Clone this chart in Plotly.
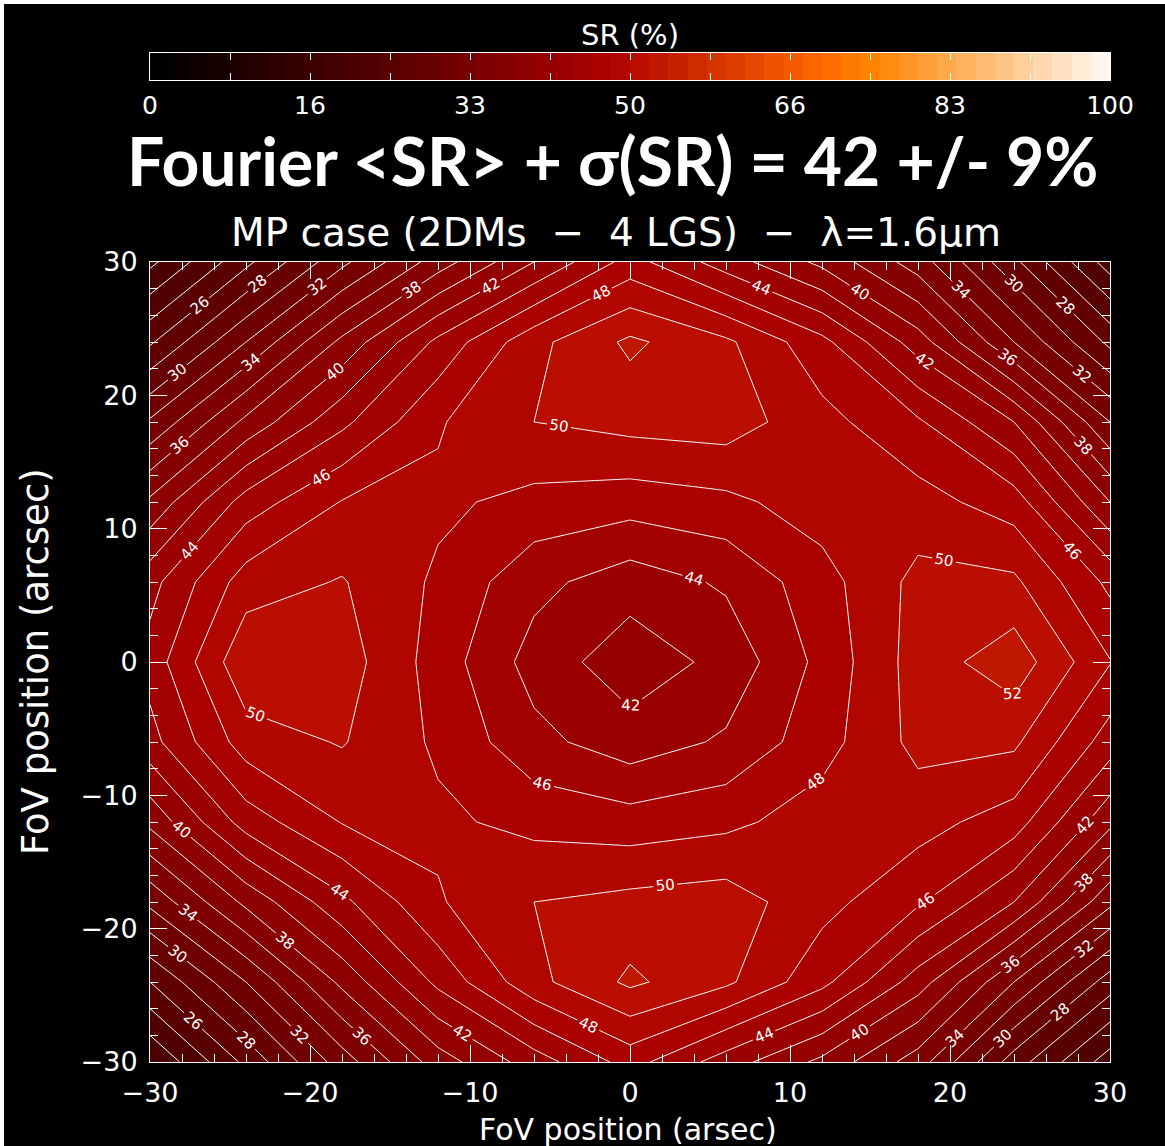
import plotly.graph_objects as go

# ---------------- data (SR in %) ----------------
x_pos = [-30, -24, -18, -12, -6, 0, 6, 12, 18, 24, 30]
y_pos = [-30, -24, -18, -12, -6, 0, 6, 12, 18, 24, 30]

sr_row_m30 = [20.0, 26.5, 33.0, 39.0, 43.0, 46.8, 43.0, 39.5, 35.0, 27.0, 21.0]
sr_row_m24 = [26.0, 32.0, 38.5, 44.5, 49.4, 52.4, 50.4, 46.6, 41.0, 34.0, 27.0]
sr_row_m18 = [32.5, 38.5, 43.5, 47.8, 50.0, 50.6, 51.0, 48.7, 46.3, 42.0, 34.5]
sr_row_m12 = [38.5, 44.9, 48.1, 48.4, 47.4, 46.9, 47.5, 49.0, 48.8, 47.0, 40.5]
sr_row_m6 = [43.3, 49.0, 50.15, 47.65, 44.6, 42.9, 44.3, 47.2, 50.6, 50.4, 45.0]
sr_row_0 = [44.8, 51.6, 51.0, 47.1, 43.2, 40.8, 42.6, 46.6, 50.9, 53.2, 48.1]
sr_row_p6 = [43.3, 49.0, 50.15, 47.65, 44.6, 42.9, 44.3, 47.2, 50.6, 50.4, 45.5]
sr_row_p12 = [38.4, 44.9, 48.1, 48.4, 47.4, 46.9, 47.5, 49.0, 48.8, 47.0, 40.0]
sr_row_p18 = [32.3, 38.5, 43.5, 47.8, 50.0, 50.7, 51.0, 48.7, 46.3, 42.0, 34.0]
sr_row_p24 = [25.7, 32.0, 38.5, 44.5, 49.4, 52.4, 50.4, 46.6, 41.0, 34.0, 27.5]
sr_row_p30 = [19.5, 25.5, 31.5, 37.0, 42.0, 46.8, 43.0, 39.5, 35.0, 28.5, 21.0]

sr_grid = [sr_row_m30, sr_row_m24, sr_row_m18, sr_row_m12, sr_row_m6, sr_row_0,
           sr_row_p6, sr_row_p12, sr_row_p18, sr_row_p24, sr_row_p30]

contour_start, contour_end, contour_step = 20, 52, 2

cbar_steps = list(range(0, 100, 2))          # colour bar cells (lower bound of each)
cbar_tickvals = [0, 100 / 6, 200 / 6, 50, 400 / 6, 500 / 6, 100]
cbar_ticktext = ["0", "16", "33", "50", "66", "83", "100"]
axis_ticks = [-30, -20, -10, 0, 10, 20, 30]

# ---------------- style helpers ----------------
def ct3(v):
    """IDL 'Red Temperature' colour table evaluated at v (0..100 %)."""
    i = v * 255.0 / 100.0
    r = min(255.0, i * 255.0 / 176.0)
    g = max(0.0, min(255.0, (i - 120.0) * 255.0 / 135.0))
    b = max(0.0, min(255.0, (i - 190.0) * 255.0 / 65.0))
    return "rgb(%d,%d,%d)" % (round(r), round(g), round(b))

# plotly maps the fill colorscale onto [start - step/2, end + step/2];
# band above level L is coloured at L + step/2  -> colour of IDL band [L, L+2)
n_lev = (contour_end - contour_start) // contour_step + 1
span = n_lev * contour_step
fill_scale = []
for k in range(n_lev + 1):
    lower = contour_start - contour_step + k * contour_step
    fill_scale.append([k * contour_step / span, ct3(lower)])

cbar_scale = [[v / 100.0, ct3(v)] for v in range(0, 101, 2)]

FONT = "DejaVu Sans"
WHITE = "white"
NB = "\u00a0"

fig = go.Figure()

fig.add_trace(go.Contour(
    x=x_pos, y=y_pos, z=sr_grid,
    autocontour=False,
    contours=dict(start=contour_start, end=contour_end, size=contour_step,
                  coloring="fill", showlines=True, showlabels=True,
                  labelfont=dict(family=FONT, size=15, color=WHITE)),
    line=dict(color=WHITE, width=1, smoothing=0),
    colorscale=fill_scale,
    showscale=False,
    hoverinfo="skip",
    xaxis="x", yaxis="y",
))

fig.add_trace(go.Heatmap(
    x=[v + 1 for v in cbar_steps], y=[0.5], z=[cbar_steps],
    zmin=0, zmax=100, colorscale=cbar_scale, showscale=False,
    hoverinfo="skip", xaxis="x2", yaxis="y2",
))

H_TOP, H_BOT = 40, 84
plot_h = 1146 - H_TOP - H_BOT


def py(px):
    return (1146 - H_BOT - px) / plot_h


def px_x(px):
    return (px - 150) / 960.0


axis_common = dict(
    showgrid=False, zeroline=False, showline=True, linecolor=WHITE, linewidth=1,
    mirror="allticks", ticks="inside", tickcolor=WHITE, tickwidth=1, ticklen=17,
    tickfont=dict(family=FONT, size=27, color=WHITE),
    minor=dict(dtick=2, ticklen=8, tickcolor=WHITE, tickwidth=1, ticks="inside"),
)


def note(text, x_px, y_px, size, family=FONT, angle=0):
    return dict(text=text, x=px_x(x_px), y=py(y_px), xref="paper", yref="paper",
                xanchor="center", yanchor="middle", showarrow=False, textangle=angle,
                font=dict(family=family, size=size, color=WHITE))


subtitle = ("MP case (2DMs" + NB + " − " + NB + "4 LGS)" + NB + " − " + NB + "λ=1.6μm")

fig.update_layout(
    width=1165, height=1146,
    margin=dict(l=150, r=55, t=H_TOP, b=H_BOT),
    paper_bgcolor="white", plot_bgcolor="black",
    showlegend=False,
    shapes=[dict(type="rect", xref="paper", yref="paper", layer="below",
                 x0=px_x(4), x1=px_x(1170), y0=py(4), y1=py(1150),
                 fillcolor="black", line=dict(width=0))],
    xaxis=dict(domain=[0, 1], range=[-30, 30], tickvals=axis_ticks,
               anchor="y", ticklabelstandoff=7, **axis_common),
    yaxis=dict(domain=[0, py(262)], range=[-30, 30], tickvals=axis_ticks,
               anchor="x", ticklabelstandoff=6, **axis_common),
    xaxis2=dict(domain=[0, 1], range=[0, 100], anchor="y2", tickvals=cbar_tickvals,
                ticktext=cbar_ticktext, showgrid=False, zeroline=False, showline=True,
                linecolor=WHITE, mirror="allticks", ticks="inside", ticklen=7,
                tickcolor=WHITE, ticklabelstandoff=3,
                tickfont=dict(family=FONT, size=25, color=WHITE),
                minor=dict(dtick=100 / 12, ticklen=7, tickcolor=WHITE, ticks="inside")),
    yaxis2=dict(domain=[py(80), py(53)], range=[0, 1], anchor="x2", showgrid=False,
                zeroline=False, showline=True, linecolor=WHITE, mirror=True,
                showticklabels=False, ticks=""),
    annotations=[
        note("SR (%)", 630, 35, 29),
        note("<b>Fourier &lt;SR&gt; + σ(SR) = 42 +/- 9%</b>", 612, 160, 66, family="Lato"),
        note(subtitle, 616, 232, 39),
        note("FoV position (arsec)", 628, 1130, 30),
        note("FoV position (arcsec)", 35, 662, 37, angle=-90),
    ],
)

fig.write_html("out.html")
